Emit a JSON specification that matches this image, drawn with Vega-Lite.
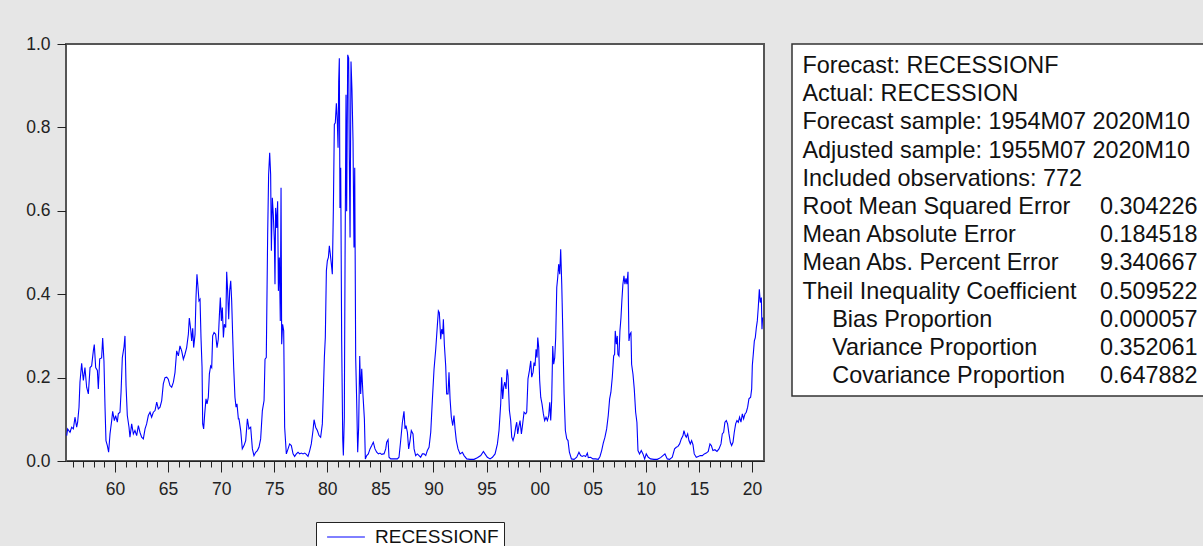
{
  "$schema": "https://vega.github.io/schema/vega-lite/v6.json",
  "padding": {"left": 24, "top": 34, "right": 0, "bottom": 0},
  "background": "#e6e6e6",
  "config": {"font": "Liberation Sans", "view": {"stroke": null}},
  "spacing": 26,
  "hconcat": [
    {
      "width": 698,
      "height": 417,
      "view": {"fill": "white", "stroke": "#555555", "strokeWidth": 2},
      "data": {"values": [
        {"t":1955.45,"RECESSIONF":0.061},{"t":1955.54,"RECESSIONF":0.077},{"t":1955.76,"RECESSIONF":0.069},{"t":1955.92,"RECESSIONF":0.081},
        {"t":1956.08,"RECESSIONF":0.077},{"t":1956.23,"RECESSIONF":0.105},{"t":1956.39,"RECESSIONF":0.081},{"t":1956.48,"RECESSIONF":0.093},
        {"t":1956.61,"RECESSIONF":0.129},{"t":1956.70,"RECESSIONF":0.189},{"t":1956.86,"RECESSIONF":0.234},{"t":1957.02,"RECESSIONF":0.193},
        {"t":1957.17,"RECESSIONF":0.224},{"t":1957.33,"RECESSIONF":0.177},{"t":1957.49,"RECESSIONF":0.161},{"t":1957.65,"RECESSIONF":0.224},
        {"t":1957.80,"RECESSIONF":0.228},{"t":1957.96,"RECESSIONF":0.264},{"t":1958.05,"RECESSIONF":0.279},{"t":1958.18,"RECESSIONF":0.224},
        {"t":1958.34,"RECESSIONF":0.217},{"t":1958.43,"RECESSIONF":0.173},{"t":1958.56,"RECESSIONF":0.245},{"t":1958.74,"RECESSIONF":0.247},
        {"t":1958.84,"RECESSIONF":0.295},{"t":1958.96,"RECESSIONF":0.240},{"t":1959.06,"RECESSIONF":0.129},{"t":1959.15,"RECESSIONF":0.049},
        {"t":1959.28,"RECESSIONF":0.037},{"t":1959.40,"RECESSIONF":0.021},{"t":1959.53,"RECESSIONF":0.065},{"t":1959.69,"RECESSIONF":0.097},
        {"t":1959.78,"RECESSIONF":0.119},{"t":1959.94,"RECESSIONF":0.097},{"t":1960.06,"RECESSIONF":0.109},{"t":1960.22,"RECESSIONF":0.093},
        {"t":1960.31,"RECESSIONF":0.113},{"t":1960.47,"RECESSIONF":0.117},{"t":1960.57,"RECESSIONF":0.165},{"t":1960.69,"RECESSIONF":0.248},
        {"t":1960.85,"RECESSIONF":0.274},{"t":1960.94,"RECESSIONF":0.300},{"t":1961.04,"RECESSIONF":0.181},{"t":1961.16,"RECESSIONF":0.109},
        {"t":1961.32,"RECESSIONF":0.081},{"t":1961.41,"RECESSIONF":0.057},{"t":1961.57,"RECESSIONF":0.089},{"t":1961.73,"RECESSIONF":0.065},
        {"t":1961.88,"RECESSIONF":0.073},{"t":1962.04,"RECESSIONF":0.061},{"t":1962.20,"RECESSIONF":0.085},{"t":1962.35,"RECESSIONF":0.069},
        {"t":1962.51,"RECESSIONF":0.057},{"t":1962.67,"RECESSIONF":0.053},{"t":1962.83,"RECESSIONF":0.077},{"t":1962.98,"RECESSIONF":0.089},
        {"t":1963.14,"RECESSIONF":0.109},{"t":1963.30,"RECESSIONF":0.117},{"t":1963.45,"RECESSIONF":0.105},{"t":1963.61,"RECESSIONF":0.117},
        {"t":1963.77,"RECESSIONF":0.121},{"t":1963.93,"RECESSIONF":0.141},{"t":1964.08,"RECESSIONF":0.125},{"t":1964.24,"RECESSIONF":0.129},
        {"t":1964.40,"RECESSIONF":0.145},{"t":1964.55,"RECESSIONF":0.185},{"t":1964.71,"RECESSIONF":0.200},{"t":1964.87,"RECESSIONF":0.201},
        {"t":1965.02,"RECESSIONF":0.196},{"t":1965.18,"RECESSIONF":0.181},{"t":1965.34,"RECESSIONF":0.177},{"t":1965.50,"RECESSIONF":0.189},
        {"t":1965.65,"RECESSIONF":0.212},{"t":1965.81,"RECESSIONF":0.264},{"t":1965.97,"RECESSIONF":0.252},{"t":1966.12,"RECESSIONF":0.276},
        {"t":1966.28,"RECESSIONF":0.264},{"t":1966.44,"RECESSIONF":0.244},{"t":1966.59,"RECESSIONF":0.256},{"t":1966.75,"RECESSIONF":0.272},
        {"t":1966.91,"RECESSIONF":0.304},{"t":1967.00,"RECESSIONF":0.343},{"t":1967.13,"RECESSIONF":0.316},{"t":1967.22,"RECESSIONF":0.288},
        {"t":1967.32,"RECESSIONF":0.318},{"t":1967.41,"RECESSIONF":0.272},{"t":1967.54,"RECESSIONF":0.304},{"t":1967.63,"RECESSIONF":0.392},
        {"t":1967.72,"RECESSIONF":0.448},{"t":1967.82,"RECESSIONF":0.416},{"t":1967.91,"RECESSIONF":0.384},{"t":1968.01,"RECESSIONF":0.388},
        {"t":1968.10,"RECESSIONF":0.296},{"t":1968.20,"RECESSIONF":0.224},{"t":1968.26,"RECESSIONF":0.089},{"t":1968.35,"RECESSIONF":0.077},
        {"t":1968.45,"RECESSIONF":0.113},{"t":1968.57,"RECESSIONF":0.149},{"t":1968.67,"RECESSIONF":0.137},{"t":1968.79,"RECESSIONF":0.153},
        {"t":1968.89,"RECESSIONF":0.209},{"t":1969.01,"RECESSIONF":0.228},{"t":1969.11,"RECESSIONF":0.224},{"t":1969.20,"RECESSIONF":0.300},
        {"t":1969.33,"RECESSIONF":0.308},{"t":1969.48,"RECESSIONF":0.304},{"t":1969.61,"RECESSIONF":0.272},{"t":1969.73,"RECESSIONF":0.292},
        {"t":1969.83,"RECESSIONF":0.348},{"t":1969.92,"RECESSIONF":0.392},{"t":1970.02,"RECESSIONF":0.336},{"t":1970.11,"RECESSIONF":0.368},
        {"t":1970.21,"RECESSIONF":0.296},{"t":1970.30,"RECESSIONF":0.328},{"t":1970.43,"RECESSIONF":0.320},{"t":1970.52,"RECESSIONF":0.454},
        {"t":1970.61,"RECESSIONF":0.408},{"t":1970.71,"RECESSIONF":0.340},{"t":1970.80,"RECESSIONF":0.408},{"t":1970.90,"RECESSIONF":0.432},
        {"t":1970.99,"RECESSIONF":0.384},{"t":1971.08,"RECESSIONF":0.304},{"t":1971.18,"RECESSIONF":0.224},{"t":1971.30,"RECESSIONF":0.153},
        {"t":1971.40,"RECESSIONF":0.129},{"t":1971.49,"RECESSIONF":0.137},{"t":1971.62,"RECESSIONF":0.101},
        {"t":1971.68,"RECESSIONF":0.101},{"t":1971.84,"RECESSIONF":0.073},{"t":1971.99,"RECESSIONF":0.029},{"t":1972.15,"RECESSIONF":0.037},
        {"t":1972.31,"RECESSIONF":0.049},{"t":1972.47,"RECESSIONF":0.101},{"t":1972.62,"RECESSIONF":0.077},{"t":1972.78,"RECESSIONF":0.081},
        {"t":1972.94,"RECESSIONF":0.029},{"t":1973.09,"RECESSIONF":0.013},{"t":1973.25,"RECESSIONF":0.021},{"t":1973.41,"RECESSIONF":0.025},
        {"t":1973.56,"RECESSIONF":0.033},{"t":1973.72,"RECESSIONF":0.053},{"t":1973.88,"RECESSIONF":0.121},{"t":1974.04,"RECESSIONF":0.145},
        {"t":1974.13,"RECESSIONF":0.244},{"t":1974.25,"RECESSIONF":0.248},{"t":1974.38,"RECESSIONF":0.543},{"t":1974.47,"RECESSIONF":0.687},
        {"t":1974.57,"RECESSIONF":0.739},{"t":1974.66,"RECESSIONF":0.687},{"t":1974.73,"RECESSIONF":0.504},{"t":1974.82,"RECESSIONF":0.631},
        {"t":1974.91,"RECESSIONF":0.591},{"t":1975.01,"RECESSIONF":0.528},{"t":1975.07,"RECESSIONF":0.424},{"t":1975.13,"RECESSIONF":0.607},
        {"t":1975.23,"RECESSIONF":0.559},{"t":1975.32,"RECESSIONF":0.623},{"t":1975.39,"RECESSIONF":0.408},{"t":1975.48,"RECESSIONF":0.488},
        {"t":1975.57,"RECESSIONF":0.336},{"t":1975.64,"RECESSIONF":0.655},{"t":1975.70,"RECESSIONF":0.280},{"t":1975.79,"RECESSIONF":0.328},
        {"t":1975.89,"RECESSIONF":0.312},{"t":1975.98,"RECESSIONF":0.081},{"t":1976.14,"RECESSIONF":0.017},{"t":1976.30,"RECESSIONF":0.029},
        {"t":1976.45,"RECESSIONF":0.041},{"t":1976.61,"RECESSIONF":0.037},{"t":1976.77,"RECESSIONF":0.017},{"t":1976.92,"RECESSIONF":0.011},
        {"t":1977.08,"RECESSIONF":0.017},{"t":1977.24,"RECESSIONF":0.021},{"t":1977.39,"RECESSIONF":0.017},{"t":1977.55,"RECESSIONF":0.019},
        {"t":1977.71,"RECESSIONF":0.017},{"t":1977.87,"RECESSIONF":0.019},{"t":1978.02,"RECESSIONF":0.016},{"t":1978.18,"RECESSIONF":0.011},
        {"t":1978.34,"RECESSIONF":0.025},{"t":1978.49,"RECESSIONF":0.041},{"t":1978.65,"RECESSIONF":0.073},{"t":1978.75,"RECESSIONF":0.099},
        {"t":1978.90,"RECESSIONF":0.081},{"t":1979.06,"RECESSIONF":0.073},{"t":1979.22,"RECESSIONF":0.061},{"t":1979.37,"RECESSIONF":0.057},
        {"t":1979.53,"RECESSIONF":0.089},{"t":1979.62,"RECESSIONF":0.161},{"t":1979.72,"RECESSIONF":0.248},{"t":1979.81,"RECESSIONF":0.296},
        {"t":1979.91,"RECESSIONF":0.456},{"t":1980.00,"RECESSIONF":0.480},{"t":1980.10,"RECESSIONF":0.488},{"t":1980.19,"RECESSIONF":0.516},
        {"t":1980.28,"RECESSIONF":0.496},{"t":1980.38,"RECESSIONF":0.472},{"t":1980.47,"RECESSIONF":0.448},{"t":1980.57,"RECESSIONF":0.607},
        {"t":1980.66,"RECESSIONF":0.807},{"t":1980.75,"RECESSIONF":0.811},{"t":1980.85,"RECESSIONF":0.858},{"t":1980.94,"RECESSIONF":0.815},
        {"t":1981.01,"RECESSIONF":0.751},{"t":1981.07,"RECESSIONF":0.910},{"t":1981.13,"RECESSIONF":0.966},{"t":1981.19,"RECESSIONF":0.607},
        {"t":1981.26,"RECESSIONF":0.703},{"t":1981.35,"RECESSIONF":0.288},{"t":1981.45,"RECESSIONF":0.053},{"t":1981.51,"RECESSIONF":0.013},
        {"t":1981.60,"RECESSIONF":0.105},{"t":1981.67,"RECESSIONF":0.488},{"t":1981.76,"RECESSIONF":0.878},{"t":1981.82,"RECESSIONF":0.599},
        {"t":1981.92,"RECESSIONF":0.974},{"t":1982.01,"RECESSIONF":0.966},{"t":1982.07,"RECESSIONF":0.727},{"t":1982.14,"RECESSIONF":0.536},
        {"t":1982.23,"RECESSIONF":0.958},{"t":1982.32,"RECESSIONF":0.890},{"t":1982.42,"RECESSIONF":0.767},{"t":1982.51,"RECESSIONF":0.512},
        {"t":1982.58,"RECESSIONF":0.703},{"t":1982.67,"RECESSIONF":0.248},{"t":1982.76,"RECESSIONF":0.149},{"t":1982.86,"RECESSIONF":0.021},
        {"t":1982.95,"RECESSIONF":0.081},{"t":1983.05,"RECESSIONF":0.252},{"t":1983.14,"RECESSIONF":0.161},{"t":1983.24,"RECESSIONF":0.221},
        {"t":1983.36,"RECESSIONF":0.157},{"t":1983.49,"RECESSIONF":0.101},{"t":1983.58,"RECESSIONF":0.005},{"t":1983.71,"RECESSIONF":0.013},
        {"t":1983.86,"RECESSIONF":0.017},{"t":1984.02,"RECESSIONF":0.029},{"t":1984.18,"RECESSIONF":0.037},{"t":1984.33,"RECESSIONF":0.045},
        {"t":1984.49,"RECESSIONF":0.029},{"t":1984.65,"RECESSIONF":0.021},{"t":1984.81,"RECESSIONF":0.017},{"t":1984.96,"RECESSIONF":0.019},
        {"t":1985.12,"RECESSIONF":0.016},{"t":1985.28,"RECESSIONF":0.017},
        {"t":1985.34,"RECESSIONF":0.017},{"t":1985.50,"RECESSIONF":0.029},{"t":1985.59,"RECESSIONF":0.045},{"t":1985.72,"RECESSIONF":0.051},
        {"t":1985.81,"RECESSIONF":0.009},{"t":1985.97,"RECESSIONF":0.005},{"t":1986.28,"RECESSIONF":0.005},{"t":1986.60,"RECESSIONF":0.005},
        {"t":1986.75,"RECESSIONF":0.009},{"t":1986.91,"RECESSIONF":0.049},{"t":1987.07,"RECESSIONF":0.093},{"t":1987.22,"RECESSIONF":0.119},
        {"t":1987.32,"RECESSIONF":0.077},{"t":1987.41,"RECESSIONF":0.085},{"t":1987.54,"RECESSIONF":0.069},{"t":1987.66,"RECESSIONF":0.029},
        {"t":1987.79,"RECESSIONF":0.049},{"t":1987.91,"RECESSIONF":0.073},{"t":1988.07,"RECESSIONF":0.065},{"t":1988.17,"RECESSIONF":0.029},
        {"t":1988.32,"RECESSIONF":0.013},{"t":1988.48,"RECESSIONF":0.017},{"t":1988.64,"RECESSIONF":0.013},{"t":1988.79,"RECESSIONF":0.009},
        {"t":1988.95,"RECESSIONF":0.017},{"t":1989.11,"RECESSIONF":0.017},{"t":1989.27,"RECESSIONF":0.013},{"t":1989.42,"RECESSIONF":0.025},
        {"t":1989.58,"RECESSIONF":0.033},{"t":1989.74,"RECESSIONF":0.069},{"t":1989.89,"RECESSIONF":0.145},{"t":1990.05,"RECESSIONF":0.220},
        {"t":1990.21,"RECESSIONF":0.268},{"t":1990.36,"RECESSIONF":0.324},{"t":1990.46,"RECESSIONF":0.360},{"t":1990.55,"RECESSIONF":0.356},
        {"t":1990.68,"RECESSIONF":0.292},{"t":1990.77,"RECESSIONF":0.316},{"t":1990.87,"RECESSIONF":0.304},{"t":1990.93,"RECESSIONF":0.340},
        {"t":1991.02,"RECESSIONF":0.280},{"t":1991.15,"RECESSIONF":0.228},{"t":1991.24,"RECESSIONF":0.161},{"t":1991.37,"RECESSIONF":0.161},
        {"t":1991.46,"RECESSIONF":0.213},{"t":1991.56,"RECESSIONF":0.149},{"t":1991.68,"RECESSIONF":0.105},{"t":1991.81,"RECESSIONF":0.085},
        {"t":1991.93,"RECESSIONF":0.109},{"t":1992.03,"RECESSIONF":0.077},{"t":1992.15,"RECESSIONF":0.049},{"t":1992.31,"RECESSIONF":0.029},
        {"t":1992.50,"RECESSIONF":0.017},{"t":1992.72,"RECESSIONF":0.021},{"t":1992.88,"RECESSIONF":0.013},{"t":1993.13,"RECESSIONF":0.005},
        {"t":1993.44,"RECESSIONF":0.004},{"t":1993.82,"RECESSIONF":0.004},{"t":1994.13,"RECESSIONF":0.008},{"t":1994.45,"RECESSIONF":0.013},
        {"t":1994.70,"RECESSIONF":0.023},{"t":1994.85,"RECESSIONF":0.017},{"t":1995.07,"RECESSIONF":0.009},{"t":1995.33,"RECESSIONF":0.005},
        {"t":1995.55,"RECESSIONF":0.009},{"t":1995.80,"RECESSIONF":0.017},{"t":1996.02,"RECESSIONF":0.041},{"t":1996.17,"RECESSIONF":0.073},
        {"t":1996.33,"RECESSIONF":0.137},{"t":1996.42,"RECESSIONF":0.201},{"t":1996.52,"RECESSIONF":0.149},{"t":1996.61,"RECESSIONF":0.177},
        {"t":1996.71,"RECESSIONF":0.189},{"t":1996.83,"RECESSIONF":0.173},{"t":1996.93,"RECESSIONF":0.220},{"t":1997.02,"RECESSIONF":0.205},
        {"t":1997.15,"RECESSIONF":0.121},{"t":1997.27,"RECESSIONF":0.097},{"t":1997.37,"RECESSIONF":0.057},{"t":1997.49,"RECESSIONF":0.049},
        {"t":1997.62,"RECESSIONF":0.061},{"t":1997.74,"RECESSIONF":0.081},{"t":1997.84,"RECESSIONF":0.093},{"t":1997.93,"RECESSIONF":0.065},
        {"t":1998.03,"RECESSIONF":0.081},{"t":1998.15,"RECESSIONF":0.097},{"t":1998.28,"RECESSIONF":0.065},{"t":1998.40,"RECESSIONF":0.089},
        {"t":1998.53,"RECESSIONF":0.117},{"t":1998.69,"RECESSIONF":0.113},{"t":1998.78,"RECESSIONF":0.117},{"t":1998.90,"RECESSIONF":0.197},
        {"t":1999.03,"RECESSIONF":0.216},{"t":1999.16,"RECESSIONF":0.240},{"t":1999.25,"RECESSIONF":0.201},{"t":1999.38,"RECESSIONF":0.213},
        {"t":1999.47,"RECESSIONF":0.236},{"t":1999.56,"RECESSIONF":0.228},{"t":1999.66,"RECESSIONF":0.268},{"t":1999.75,"RECESSIONF":0.248},
        {"t":1999.82,"RECESSIONF":0.296},{"t":1999.91,"RECESSIONF":0.272},{"t":2000.00,"RECESSIONF":0.193},{"t":2000.10,"RECESSIONF":0.153},
        {"t":2000.22,"RECESSIONF":0.137},{"t":2000.35,"RECESSIONF":0.113},{"t":2000.47,"RECESSIONF":0.097},{"t":2000.60,"RECESSIONF":0.105},
        {"t":2000.73,"RECESSIONF":0.097},{"t":2000.85,"RECESSIONF":0.109},{"t":2000.95,"RECESSIONF":0.141},{"t":2001.04,"RECESSIONF":0.097},
        {"t":2001.13,"RECESSIONF":0.145},{"t":2001.23,"RECESSIONF":0.276},{"t":2001.32,"RECESSIONF":0.232},{"t":2001.42,"RECESSIONF":0.248},
        {"t":2001.51,"RECESSIONF":0.296},{"t":2001.61,"RECESSIONF":0.416},{"t":2001.70,"RECESSIONF":0.440},{"t":2001.79,"RECESSIONF":0.472},
        {"t":2001.89,"RECESSIONF":0.448},{"t":2001.98,"RECESSIONF":0.508},{"t":2002.08,"RECESSIONF":0.424},{"t":2002.17,"RECESSIONF":0.320},
        {"t":2002.30,"RECESSIONF":0.161},{"t":2002.42,"RECESSIONF":0.073},{"t":2002.55,"RECESSIONF":0.053},{"t":2002.67,"RECESSIONF":0.049},
        {"t":2002.80,"RECESSIONF":0.021},{"t":2002.99,"RECESSIONF":0.005},{"t":2003.24,"RECESSIONF":0.004},{"t":2003.49,"RECESSIONF":0.009},
        {"t":2003.70,"RECESSIONF":0.021},{"t":2003.86,"RECESSIONF":0.013},{"t":2004.01,"RECESSIONF":0.011},{"t":2004.17,"RECESSIONF":0.013},
        {"t":2004.33,"RECESSIONF":0.011},{"t":2004.49,"RECESSIONF":0.019},{"t":2004.58,"RECESSIONF":0.008},{"t":2004.80,"RECESSIONF":0.009},
        {"t":2005.02,"RECESSIONF":0.005},{"t":2005.27,"RECESSIONF":0.005},{"t":2005.52,"RECESSIONF":0.004},{"t":2005.68,"RECESSIONF":0.011},
        {"t":2005.84,"RECESSIONF":0.025},{"t":2005.99,"RECESSIONF":0.043},{"t":2006.15,"RECESSIONF":0.057},{"t":2006.31,"RECESSIONF":0.077},
        {"t":2006.46,"RECESSIONF":0.109},{"t":2006.59,"RECESSIONF":0.149},{"t":2006.71,"RECESSIONF":0.165},{"t":2006.84,"RECESSIONF":0.201},
        {"t":2006.97,"RECESSIONF":0.252},{"t":2007.06,"RECESSIONF":0.256},{"t":2007.12,"RECESSIONF":0.312},{"t":2007.22,"RECESSIONF":0.280},
        {"t":2007.31,"RECESSIONF":0.300},{"t":2007.37,"RECESSIONF":0.256},{"t":2007.47,"RECESSIONF":0.252},{"t":2007.56,"RECESSIONF":0.312},
        {"t":2007.66,"RECESSIONF":0.344},{"t":2007.75,"RECESSIONF":0.388},{"t":2007.84,"RECESSIONF":0.424},{"t":2007.94,"RECESSIONF":0.444},
        {"t":2008.03,"RECESSIONF":0.424},{"t":2008.13,"RECESSIONF":0.438},{"t":2008.22,"RECESSIONF":0.424},{"t":2008.32,"RECESSIONF":0.454},
        {"t":2008.41,"RECESSIONF":0.288},{"t":2008.50,"RECESSIONF":0.304},{"t":2008.60,"RECESSIONF":0.308},{"t":2008.66,"RECESSIONF":0.232},
        {"t":2008.79,"RECESSIONF":0.208},{"t":2008.91,"RECESSIONF":0.173},{"t":2009.04,"RECESSIONF":0.117},{"t":2009.16,"RECESSIONF":0.093},
        {"t":2009.26,"RECESSIONF":0.025},{"t":2009.41,"RECESSIONF":0.017},{"t":2009.57,"RECESSIONF":0.025},{"t":2009.73,"RECESSIONF":0.017},
        {"t":2009.89,"RECESSIONF":0.005},{"t":2010.04,"RECESSIONF":0.017},{"t":2010.23,"RECESSIONF":0.009},{"t":2010.45,"RECESSIONF":0.005},
        {"t":2010.77,"RECESSIONF":0.004},{"t":2011.08,"RECESSIONF":0.004},{"t":2011.39,"RECESSIONF":0.008},{"t":2011.61,"RECESSIONF":0.013},
        {"t":2011.80,"RECESSIONF":0.017},{"t":2012.02,"RECESSIONF":0.005},{"t":2012.24,"RECESSIONF":0.004},{"t":2012.49,"RECESSIONF":0.009},
        {"t":2012.71,"RECESSIONF":0.029},{"t":2012.87,"RECESSIONF":0.033},{"t":2013.03,"RECESSIONF":0.035},{"t":2013.18,"RECESSIONF":0.041},
        {"t":2013.34,"RECESSIONF":0.053},{"t":2013.50,"RECESSIONF":0.061},{"t":2013.59,"RECESSIONF":0.073},{"t":2013.72,"RECESSIONF":0.061},
        {"t":2013.81,"RECESSIONF":0.057},{"t":2013.94,"RECESSIONF":0.065},{"t":2014.06,"RECESSIONF":0.049},{"t":2014.19,"RECESSIONF":0.041},
        {"t":2014.31,"RECESSIONF":0.049},{"t":2014.44,"RECESSIONF":0.039},{"t":2014.56,"RECESSIONF":0.017},{"t":2014.75,"RECESSIONF":0.009},
        {"t":2014.94,"RECESSIONF":0.011},{"t":2015.13,"RECESSIONF":0.013},{"t":2015.32,"RECESSIONF":0.013},{"t":2015.51,"RECESSIONF":0.017},
        {"t":2015.69,"RECESSIONF":0.019},{"t":2015.88,"RECESSIONF":0.023},{"t":2016.04,"RECESSIONF":0.041},{"t":2016.17,"RECESSIONF":0.037},
        {"t":2016.32,"RECESSIONF":0.025},{"t":2016.51,"RECESSIONF":0.027},{"t":2016.70,"RECESSIONF":0.023},{"t":2016.89,"RECESSIONF":0.029},
        {"t":2017.08,"RECESSIONF":0.041},{"t":2017.20,"RECESSIONF":0.065},{"t":2017.33,"RECESSIONF":0.069},{"t":2017.45,"RECESSIONF":0.093},
        {"t":2017.58,"RECESSIONF":0.097},{"t":2017.70,"RECESSIONF":0.089},{"t":2017.83,"RECESSIONF":0.065},{"t":2017.96,"RECESSIONF":0.045},
        {"t":2018.08,"RECESSIONF":0.037},{"t":2018.21,"RECESSIONF":0.045},{"t":2018.33,"RECESSIONF":0.069},{"t":2018.46,"RECESSIONF":0.089},
        {"t":2018.58,"RECESSIONF":0.097},{"t":2018.71,"RECESSIONF":0.093},{"t":2018.83,"RECESSIONF":0.105},{"t":2018.96,"RECESSIONF":0.093},
        {"t":2019.09,"RECESSIONF":0.113},{"t":2019.21,"RECESSIONF":0.101},{"t":2019.34,"RECESSIONF":0.113},{"t":2019.46,"RECESSIONF":0.117},
        {"t":2019.59,"RECESSIONF":0.129},{"t":2019.71,"RECESSIONF":0.149},{"t":2019.87,"RECESSIONF":0.153},{"t":2019.97,"RECESSIONF":0.173},
        {"t":2020.03,"RECESSIONF":0.229},{"t":2020.12,"RECESSIONF":0.256},{"t":2020.22,"RECESSIONF":0.288},{"t":2020.31,"RECESSIONF":0.296},
        {"t":2020.41,"RECESSIONF":0.320},{"t":2020.50,"RECESSIONF":0.336},{"t":2020.59,"RECESSIONF":0.368},{"t":2020.69,"RECESSIONF":0.412},
        {"t":2020.78,"RECESSIONF":0.380},{"t":2020.88,"RECESSIONF":0.392},{"t":2020.94,"RECESSIONF":0.316},{"t":2021.00,"RECESSIONF":0.344}
      ]},
      "transform": [{"fold": ["RECESSIONF"], "as": ["series", "val"]}],
      "mark": {"type": "line", "strokeWidth": 1.1, "clip": true},
      "encoding": {
        "x": {
          "field": "t", "type": "quantitative",
          "scale": {"domain": [1955.385, 2021.13], "nice": false, "zero": false},
          "axis": {
            "title": null, "grid": false,
            "values": [1956,1957,1958,1959,1960,1961,1962,1963,1964,1965,1966,1967,1968,1969,1970,1971,1972,1973,1974,1975,1976,1977,1978,1979,1980,1981,1982,1983,1984,1985,1986,1987,1988,1989,1990,1991,1992,1993,1994,1995,1996,1997,1998,1999,2000,2001,2002,2003,2004,2005,2006,2007,2008,2009,2010,2011,2012,2013,2014,2015,2016,2017,2018,2019,2020],
            "labelExpr": "datum.value % 5 === 0 ? ((datum.value % 100) < 10 ? '0' + (datum.value % 100) : '' + (datum.value % 100)) : ''",
            "tickSize": {"condition": {"test": "datum.value % 5 === 0", "value": 11}, "value": 6},
            "labelPadding": 8,
            "labelFontSize": 17.5,
            "labelColor": "#222222",
            "labelOverlap": false,
            "labelFlush": false,
            "domainColor": "#222222",
            "tickColor": "#222222"
          }
        },
        "y": {
          "field": "val", "type": "quantitative",
          "scale": {"domain": [0, 1], "nice": false},
          "axis": {
            "title": null, "grid": false,
            "values": [0, 0.2, 0.4, 0.6, 0.8, 1.0],
            "format": ".1f",
            "tickSize": 9,
            "labelPadding": 7,
            "labelFontSize": 17.5,
            "labelColor": "#222222",
            "domainColor": "#555555",
            "tickColor": "#222222"
          }
        },
        "color": {
          "field": "series", "type": "nominal",
          "scale": {"range": ["#0000ff"]},
          "legend": {
            "orient": "none", "legendX": 250, "legendY": 478,
            "title": null,
            "strokeColor": "#222222", "fillColor": "white",
            "padding": 5,
            "symbolType": "M-2,0H2",
            "symbolSize": 357,
            "symbolStrokeWidth": 1,
            "symbolStrokeColor": "#0000ff",
            "symbolOffset": 15,
            "labelOffset": 19,
            "labelFontSize": 19,
            "labelColor": "#111111",
            "labelFont": "Liberation Sans"
          }
        }
      }
    },
    {
      "width": 430,
      "height": 352,
      "view": {"fill": "white", "stroke": "#333333", "strokeWidth": 1.5},
      "data": {"values": [
        {"row": 0, "level": 0, "label": "Forecast: RECESSIONF", "value": null},
        {"row": 1, "level": 0, "label": "Actual: RECESSION", "value": null},
        {"row": 2, "level": 0, "label": "Forecast sample: 1954M07 2020M10", "value": null},
        {"row": 3, "level": 0, "label": "Adjusted sample: 1955M07 2020M10", "value": null},
        {"row": 4, "level": 0, "label": "Included observations: 772", "value": null},
        {"row": 5, "level": 0, "label": "Root Mean Squared Error", "value": "0.304226"},
        {"row": 6, "level": 0, "label": "Mean Absolute Error", "value": "0.184518"},
        {"row": 7, "level": 0, "label": "Mean Abs. Percent Error", "value": "9.340667"},
        {"row": 8, "level": 0, "label": "Theil Inequality Coefficient", "value": "0.509522"},
        {"row": 9, "level": 1, "label": "Bias Proportion", "value": "0.000057"},
        {"row": 10, "level": 1, "label": "Variance Proportion", "value": "0.352061"},
        {"row": 11, "level": 1, "label": "Covariance Proportion", "value": "0.647882"}
      ]},
      "encoding": {
        "y": {"field": "row", "type": "quantitative", "scale": {"domain": [-0.78, 11.7], "reverse": true, "nice": false, "zero": false}, "axis": null}
      },
      "layer": [
        {
          "mark": {"type": "text", "align": "left", "baseline": "middle", "fontSize": 23.4, "color": "#111111", "font": "Liberation Sans"},
          "encoding": {
            "x": {"field": "level", "type": "quantitative", "scale": {"domain": [0, 10], "range": [10.5, 308], "nice": false, "zero": false}, "axis": null},
            "text": {"field": "label"}
          }
        },
        {
          "transform": [{"filter": "datum.value != null"}],
          "mark": {"type": "text", "align": "left", "baseline": "middle", "fontSize": 23.4, "color": "#111111", "font": "Liberation Sans"},
          "encoding": {
            "x": {"datum": 10, "type": "quantitative"},
            "text": {"field": "value"}
          }
        }
      ]
    }
  ]
}
